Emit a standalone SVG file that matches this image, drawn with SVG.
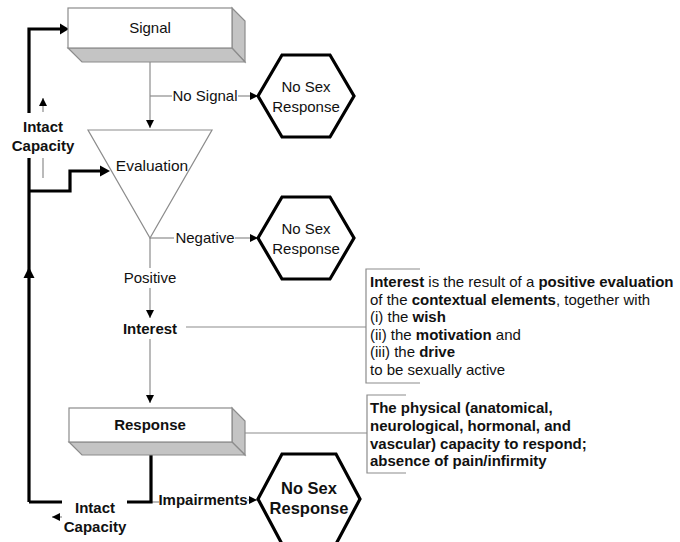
<svg xmlns="http://www.w3.org/2000/svg" width="680" height="542" viewBox="0 0 680 542">
<defs>
<marker id="ah" viewBox="0 0 10 10" refX="10" refY="5" markerWidth="8" markerHeight="8" markerUnits="userSpaceOnUse" orient="auto"><path d="M0,0 L10,5 L0,10 z" fill="#000"/></marker>
<style>
text{font-family:"Liberation Sans",Arial,sans-serif;fill:#111}
.t{font-size:15px}
.b{font-size:15px;font-weight:bold}
.s{font-size:15px}
.thin{fill:none;stroke:#8c8c8c;stroke-width:1.2}
.thick{fill:none;stroke:#000;stroke-width:3.2}
.front{fill:#fff;stroke:#8c8c8c;stroke-width:1.2}
.side{fill:#c4c4c4;stroke:#8c8c8c;stroke-width:1.2}
.hex{fill:#fff;stroke:#000;stroke-width:3.2}
.tri{fill:#fff;stroke:#8c8c8c;stroke-width:1.2}
.br{fill:none;stroke:#8c8c8c;stroke-width:1.2}
</style>
</defs>

<g id="connectors">
<path class="thin" d="M150,62 V128" marker-end="url(#ah)"/>
<path class="thin" d="M150,96 H172"/>
<path class="thin" d="M238,96 H258" marker-end="url(#ah)"/>
<path class="thin" d="M150,238 H174"/>
<path class="thin" d="M235,238 H258" marker-end="url(#ah)"/>
<path class="thin" d="M150,238 V268"/>
<path class="thin" d="M150,288 V318" marker-end="url(#ah)"/>
<path class="thin" d="M150,339 V403" marker-end="url(#ah)"/>
<path class="thin" d="M186,327 H366"/>
<path class="thin" d="M245,433 H367"/>
<path class="thin" d="M151,502 H159"/>
<path class="thin" d="M247,500 H257" marker-end="url(#ah)"/>
<path class="thin" d="M43,112 V98" marker-end="url(#ah)"/>
<path class="thin" d="M43,178 V158"/>
<path class="thin" d="M62,517 H52" marker-end="url(#ah)"/>
<path class="thick" d="M29,502 V158"/>
<path class="thick" d="M29,113 V29 H60"/>
<path d="M60,23.5 L69,29 L60,34.5 z" fill="#000"/>
<path class="thick" d="M29,191 H70 V171 H100"/>
<path d="M100,165.5 L110,171 L100,176.5 z" fill="#000"/>
<path d="M23.5,278 L29,267 L34.5,278 z" fill="#000"/>
<path class="thick" d="M29,502 H62"/>
<path class="thick" d="M127,502 H151 V455"/>
</g>

<g id="signal">
<polygon class="side" points="232,8 245,21 245,62 232,48"/>
<polygon class="side" points="68,48 232,48 245,62 82,62"/>
<rect class="front" x="68" y="8" width="164" height="40"/>
<text class="t" x="150" y="33" text-anchor="middle">Signal</text>
</g>

<g id="nosex1">
<polygon class="hex" points="258,96 282,55 330,55 354,96 330,137 282,137"/>
<text class="t" x="306" y="92" text-anchor="middle">No Sex</text>
<text class="t" x="306" y="112" text-anchor="middle">Response</text>
</g>

<g id="evaluation">
<polygon class="tri" points="88,130 212,130 150,238"/>
<text x="152" y="171" text-anchor="middle" font-size="15.5">Evaluation</text>
</g>

<g id="nosex2">
<polygon class="hex" points="258,238 282,197 330,197 354,238 330,279 282,279"/>
<text class="t" x="306" y="234" text-anchor="middle">No Sex</text>
<text class="t" x="306" y="254" text-anchor="middle">Response</text>
</g>

<g id="labels">
<text class="t" x="205" y="101" text-anchor="middle">No Signal</text>
<text class="t" x="205" y="243" text-anchor="middle">Negative</text>
<text class="t" x="150" y="283" text-anchor="middle">Positive</text>
<text class="b" x="43" y="132" text-anchor="middle">Intact</text>
<text class="b" x="43" y="151" text-anchor="middle">Capacity</text>
<text class="b" x="203" y="505" text-anchor="middle">Impairments</text>
<text class="b" x="95" y="513" text-anchor="middle">Intact</text>
<text class="b" x="95" y="532" text-anchor="middle">Capacity</text>
</g>

<g id="interest">
<text class="b" x="150" y="334" text-anchor="middle">Interest</text>
</g>

<g id="interest-note">
<path class="br" d="M420,269 H366 V383 H420"/>
<text class="s" x="370" y="287"><tspan font-weight="bold">Interest</tspan>  is the result of a <tspan font-weight="bold">positive evaluation</tspan></text>
<text class="s" x="370" y="305">of the <tspan font-weight="bold">contextual elements</tspan>, together with</text>
<text class="s" x="370" y="322">(i) the <tspan font-weight="bold">wish</tspan></text>
<text class="s" x="370" y="340">(ii) the <tspan font-weight="bold">motivation</tspan> and</text>
<text class="s" x="370" y="357">(iii) the <tspan font-weight="bold">drive</tspan></text>
<text class="s" x="370" y="375">to be sexually active</text>
</g>

<g id="response">
<polygon class="side" points="232,408 245,421 245,455 232,442"/>
<polygon class="side" points="69,442 232,442 245,455 82,455"/>
<rect class="front" x="69" y="408" width="163" height="34"/>
<text class="b" x="150" y="430" text-anchor="middle">Response</text>
</g>

<g id="response-note">
<path class="br" d="M406,395 H367 V473 H406"/>
<text class="s" x="370" y="413" font-weight="bold">The physical (anatomical,</text>
<text class="s" x="370" y="431" font-weight="bold">neurological, hormonal, and</text>
<text class="s" x="370" y="449" font-weight="bold">vascular) capacity to respond;</text>
<text class="s" x="370" y="466" font-weight="bold">absence of pain/infirmity</text>
</g>

<g id="nosex3">
<polygon class="hex" points="258,499 282,454 336,454 360,499 336,544 282,544"/>
<text x="309" y="494" text-anchor="middle" font-size="16.5" font-weight="bold">No Sex</text>
<text x="309" y="514" text-anchor="middle" font-size="16.5" font-weight="bold">Response</text>
</g>
</svg>
